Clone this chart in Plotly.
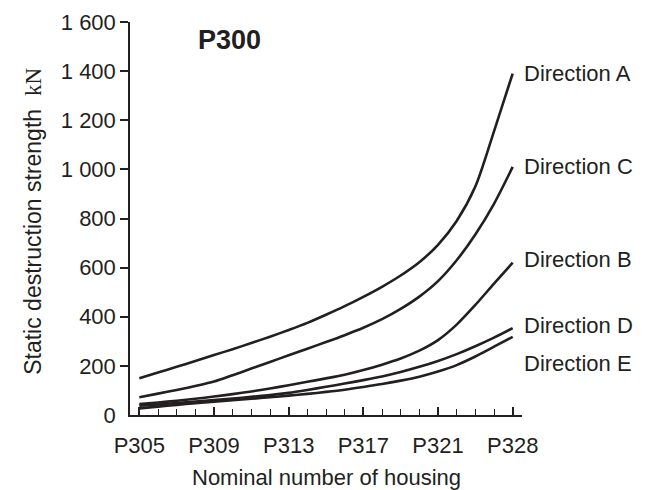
import plotly.graph_objects as go

# ---- data -------------------------------------------------------------
housing = ["P305", "P306", "P307", "P308", "P309", "P310", "P311", "P312",
           "P313", "P314", "P315", "P316", "P317", "P318", "P319", "P320",
           "P321", "P322", "P324", "P326", "P328"]
tick_labels = ["P305", "P309", "P313", "P317", "P321", "P328"]
y_ticks = [0, 200, 400, 600, 800, 1000, 1200, 1400, 1600]

dir_a = [150, 173, 196, 220, 244, 268, 293, 319, 346, 375, 408, 443, 481,
         522, 568, 622, 693, 790, 930, 1155, 1390]
dir_c = [72, 87, 102, 118, 136, 162, 189, 216, 243, 270, 297, 325, 355,
         390, 432, 482, 545, 630, 735, 860, 1010]
dir_b = [45, 51, 58, 66, 75, 85, 96, 108, 121, 135, 149, 164, 183,
         205, 230, 262, 305, 368, 448, 535, 620]
dir_d = [38, 43, 49, 55, 61, 67, 74, 81, 90, 102, 115, 128, 142,
         157, 175, 196, 220, 248, 280, 315, 354]
dir_e = [27, 34, 41, 48, 54, 60, 66, 72, 79, 86, 94, 103, 114,
         126, 140, 156, 177, 203, 238, 278, 318]

series_names = ["Direction A", "Direction C", "Direction B", "Direction D", "Direction E"]
series_vals = [dir_a, dir_c, dir_b, dir_d, dir_e]

# ---- style ------------------------------------------------------------
INK = "#231f20"
FONT = "Liberation Sans, Arial, Helvetica, sans-serif"
label_yshift = [0, 0, 3, 3, -27]

x = list(range(len(housing)))
tick_pos = [housing.index(t) for t in tick_labels]

fig = go.Figure()
for name, vals in zip(series_names, series_vals):
    fig.add_trace(go.Scatter(
        x=x, y=vals, mode="lines", name=name, showlegend=False,
        line=dict(color=INK, width=2.6, shape="spline", smoothing=0.8),
        hoverinfo="skip"))

for name, vals, ys in zip(series_names, series_vals, label_yshift):
    fig.add_annotation(x=x[-1], y=vals[-1], text=name, showarrow=False,
                       xanchor="left", yanchor="middle", xshift=9, yshift=ys,
                       font=dict(size=22, color=INK, family=FONT))

fig.add_annotation(x=0.2551, y=0.954, xref="paper", yref="paper",
                   text="<b>P300</b>", showarrow=False,
                   xanchor="center", yanchor="middle",
                   font=dict(size=27, color=INK, family=FONT))

fig.add_annotation(x=0.5, y=-0.158, xref="paper", yref="paper",
                   text="Nominal number of housing", showarrow=False,
                   xanchor="center", yanchor="middle",
                   font=dict(size=22, color=INK, family=FONT))

fig.add_annotation(x=-0.246, y=0.493, xref="paper", yref="paper",
                   text='Static destruction strength  <span style="font-family:Liberation Serif, Times New Roman, serif">kN</span>',
                   showarrow=False, textangle=-90,
                   xanchor="center", yanchor="middle",
                   font=dict(size=23, color=INK, family=FONT))

# the page body adds an 8 px offset, so the figure is sized to fit the window
fig.update_layout(
    width=640, height=482,
    margin=dict(l=122, r=126, t=14, b=75, autoexpand=False),
    plot_bgcolor="white", paper_bgcolor="white",
    separators=". ",
    font=dict(family=FONT, color=INK, size=22),
    xaxis=dict(
        range=[-0.5, len(housing) - 0.5], showgrid=False, zeroline=False,
        automargin=False,
        showline=True, linecolor=INK, linewidth=1.5,
        tickmode="array", tickvals=tick_pos, ticktext=tick_labels,
        ticks="inside", ticklen=8, tickwidth=2, tickcolor=INK,
        ticklabelstandoff=10,
        minor=dict(tickmode="array", tickvals=x, ticks="inside",
                   ticklen=6, tickwidth=1.2, tickcolor=INK),
        tickfont=dict(size=22, color=INK, family=FONT),
    ),
    yaxis=dict(
        range=[0, 1600], showgrid=False, zeroline=False,
        automargin=False,
        showline=True, linecolor=INK, linewidth=1.5,
        tickmode="array", tickvals=y_ticks, tickformat=",d",
        ticks="outside", ticklen=8, tickwidth=1.5,
        tickcolor="rgba(0,0,0,0)",
        minor=dict(tickmode="array", tickvals=y_ticks[1:], ticks="outside",
                   ticklen=8, tickwidth=1.5, tickcolor=INK),
        tickfont=dict(size=22, color=INK, family=FONT),
    ),
)

fig.write_html("out.html")
